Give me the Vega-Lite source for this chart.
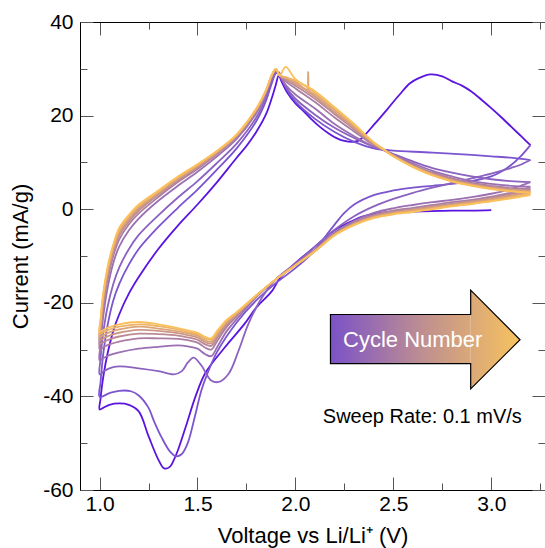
{
"$schema": "https://vega.github.io/schema/vega-lite/v6.json",
"width": 465, "height": 468,
"autosize": "none",
"padding": {"left": 80, "top": 22, "right": 0, "bottom": 58},
"background": "white",
"config": {"view": {"stroke": null}, "font": "Liberation Sans", "axis": {"grid": false, "labelColor": "#000", "titleColor": "#000", "tickColor": "#555", "domainColor": "#000", "titleFontWeight": "normal"}},
"resolve": {"axis": {"x": "independent", "y": "independent"}},
"layer": [
{
"data": {"values": [
{"c":"c01","i":0,"v":3.0,"a":-0.2},{"c":"c01","i":1,"v":2.9,"a":-0.3},{"c":"c01","i":2,"v":2.8,"a":-0.3},{"c":"c01","i":3,"v":2.7,"a":-0.4},{"c":"c01","i":4,"v":2.6,"a":-0.5},{"c":"c01","i":5,"v":2.5,"a":-0.6},{"c":"c01","i":6,"v":2.43,"a":-0.8},{"c":"c01","i":7,"v":2.35,"a":-1.5},{"c":"c01","i":8,"v":2.3,"a":-2.3},{"c":"c01","i":9,"v":2.2,"a":-4.5},{"c":"c01","i":10,"v":2.1,"a":-8.0},{"c":"c01","i":11,"v":2.0,"a":-11.5},{"c":"c01","i":12,"v":1.92,"a":-14.8},{"c":"c01","i":13,"v":1.88,"a":-17.5},{"c":"c01","i":14,"v":1.8,"a":-21.0},{"c":"c01","i":15,"v":1.74,"a":-24.5},{"c":"c01","i":16,"v":1.64,"a":-29.5},{"c":"c01","i":17,"v":1.54,"a":-35.0},{"c":"c01","i":18,"v":1.49,"a":-40.0},{"c":"c01","i":19,"v":1.44,"a":-46.5},{"c":"c01","i":20,"v":1.4,"a":-51.5},{"c":"c01","i":21,"v":1.38,"a":-53.5},{"c":"c01","i":22,"v":1.36,"a":-55.0},{"c":"c01","i":23,"v":1.33,"a":-55.4},{"c":"c01","i":24,"v":1.3,"a":-53.5},{"c":"c01","i":25,"v":1.25,"a":-48.5},{"c":"c01","i":26,"v":1.2,"a":-43.2},{"c":"c01","i":27,"v":1.15,"a":-41.8},{"c":"c01","i":28,"v":1.1,"a":-41.5},{"c":"c01","i":29,"v":1.05,"a":-41.8},{"c":"c01","i":30,"v":1.02,"a":-42.4},{"c":"c01","i":31,"v":1.0,"a":-42.8},
{"c":"c01","i":32,"v":1.005,"a":-40.5},{"c":"c01","i":33,"v":1.01,"a":-38.5},{"c":"c01","i":34,"v":1.02,"a":-35.5},{"c":"c01","i":35,"v":1.04,"a":-31.0},{"c":"c01","i":36,"v":1.07,"a":-26.0},{"c":"c01","i":37,"v":1.1,"a":-22.5},{"c":"c01","i":38,"v":1.15,"a":-18.0},{"c":"c01","i":39,"v":1.2,"a":-14.5},{"c":"c01","i":40,"v":1.3,"a":-8.5},{"c":"c01","i":41,"v":1.4,"a":-3.5},{"c":"c01","i":42,"v":1.5,"a":1.0},{"c":"c01","i":43,"v":1.6,"a":5.8},{"c":"c01","i":44,"v":1.7,"a":11.0},{"c":"c01","i":45,"v":1.75,"a":13.5},{"c":"c01","i":46,"v":1.8,"a":16.5},{"c":"c01","i":47,"v":1.85,"a":20.3},{"c":"c01","i":48,"v":1.88,"a":23.8},{"c":"c01","i":49,"v":1.9,"a":26.6},{"c":"c01","i":50,"v":1.915,"a":28.6},{"c":"c01","i":51,"v":1.93,"a":27.2},{"c":"c01","i":52,"v":1.96,"a":24.8},{"c":"c01","i":53,"v":2.0,"a":22.6},{"c":"c01","i":54,"v":2.04,"a":21.0},{"c":"c01","i":55,"v":2.08,"a":19.3},{"c":"c01","i":56,"v":2.125,"a":17.6},{"c":"c01","i":57,"v":2.17,"a":16.2},{"c":"c01","i":58,"v":2.21,"a":15.2},{"c":"c01","i":59,"v":2.25,"a":14.6},{"c":"c01","i":60,"v":2.29,"a":14.4},{"c":"c01","i":61,"v":2.32,"a":14.6},{"c":"c01","i":62,"v":2.34,"a":15.2},{"c":"c01","i":63,"v":2.4,"a":18.0},{"c":"c01","i":64,"v":2.47,"a":21.4},{"c":"c01","i":65,"v":2.53,"a":24.4},{"c":"c01","i":66,"v":2.585,"a":26.9},{"c":"c01","i":67,"v":2.63,"a":28.0},{"c":"c01","i":68,"v":2.69,"a":28.8},{"c":"c01","i":69,"v":2.75,"a":28.4},{"c":"c01","i":70,"v":2.8,"a":27.3},{"c":"c01","i":71,"v":2.85,"a":26.4},{"c":"c01","i":72,"v":2.9,"a":25.1},{"c":"c01","i":73,"v":2.95,"a":23.4},{"c":"c01","i":74,"v":3.0,"a":21.6},{"c":"c01","i":75,"v":3.05,"a":19.7},{"c":"c01","i":76,"v":3.1,"a":17.7},{"c":"c01","i":77,"v":3.15,"a":15.7},{"c":"c01","i":78,"v":3.2,"a":13.7},
{"c":"c02","i":0,"v":3.2,"a":13.7},{"c":"c02","i":1,"v":3.15,"a":11.3},{"c":"c02","i":2,"v":3.1,"a":9.4},{"c":"c02","i":3,"v":3.05,"a":8.0},{"c":"c02","i":4,"v":3.0,"a":7.0},{"c":"c02","i":5,"v":2.9,"a":6.0},{"c":"c02","i":6,"v":2.8,"a":5.4},{"c":"c02","i":7,"v":2.7,"a":5.0},{"c":"c02","i":8,"v":2.6,"a":4.6},{"c":"c02","i":9,"v":2.5,"a":4.0},{"c":"c02","i":10,"v":2.4,"a":3.0},{"c":"c02","i":11,"v":2.3,"a":1.0},{"c":"c02","i":12,"v":2.25,"a":-0.8},{"c":"c02","i":13,"v":2.2,"a":-3.3},{"c":"c02","i":14,"v":2.15,"a":-6.0},{"c":"c02","i":15,"v":2.1,"a":-8.8},{"c":"c02","i":16,"v":2.0,"a":-12.6},{"c":"c02","i":17,"v":1.9,"a":-15.8},{"c":"c02","i":18,"v":1.8,"a":-19.5},{"c":"c02","i":19,"v":1.7,"a":-24.2},{"c":"c02","i":20,"v":1.6,"a":-30.5},{"c":"c02","i":21,"v":1.55,"a":-35.2},{"c":"c02","i":22,"v":1.52,"a":-38.7},{"c":"c02","i":23,"v":1.486,"a":-44.4},{"c":"c02","i":24,"v":1.45,"a":-50.0},{"c":"c02","i":25,"v":1.42,"a":-52.3},{"c":"c02","i":26,"v":1.39,"a":-52.8},{"c":"c02","i":27,"v":1.36,"a":-51.8},{"c":"c02","i":28,"v":1.316,"a":-48.7},{"c":"c02","i":29,"v":1.28,"a":-45.5},{"c":"c02","i":30,"v":1.248,"a":-42.3},{"c":"c02","i":31,"v":1.2,"a":-39.8},{"c":"c02","i":32,"v":1.16,"a":-38.9},{"c":"c02","i":33,"v":1.1,"a":-38.8},{"c":"c02","i":34,"v":1.05,"a":-39.3},{"c":"c02","i":35,"v":1.0,"a":-40.1},
{"c":"c02","i":36,"v":1.005,"a":-37.0},{"c":"c02","i":37,"v":1.01,"a":-34.5},{"c":"c02","i":38,"v":1.02,"a":-30.5},{"c":"c02","i":39,"v":1.04,"a":-25.0},{"c":"c02","i":40,"v":1.07,"a":-19.5},{"c":"c02","i":41,"v":1.1,"a":-16.0},{"c":"c02","i":42,"v":1.15,"a":-11.8},{"c":"c02","i":43,"v":1.2,"a":-8.5},{"c":"c02","i":44,"v":1.3,"a":-3.8},{"c":"c02","i":45,"v":1.4,"a":0.3},{"c":"c02","i":46,"v":1.5,"a":4.2},{"c":"c02","i":47,"v":1.6,"a":8.5},{"c":"c02","i":48,"v":1.7,"a":13.0},{"c":"c02","i":49,"v":1.8,"a":18.8},{"c":"c02","i":50,"v":1.85,"a":23.2},{"c":"c02","i":51,"v":1.88,"a":27.0},{"c":"c02","i":52,"v":1.9,"a":29.0},{"c":"c02","i":53,"v":1.915,"a":29.3},{"c":"c02","i":54,"v":1.93,"a":28.0},{"c":"c02","i":55,"v":1.96,"a":25.3},{"c":"c02","i":56,"v":2.0,"a":23.0},{"c":"c02","i":57,"v":2.1,"a":19.3},{"c":"c02","i":58,"v":2.2,"a":16.5},{"c":"c02","i":59,"v":2.3,"a":14.4},{"c":"c02","i":60,"v":2.4,"a":13.0},{"c":"c02","i":61,"v":2.45,"a":12.7},{"c":"c02","i":62,"v":2.5,"a":12.5},{"c":"c02","i":63,"v":2.7,"a":12.1},{"c":"c02","i":64,"v":2.9,"a":11.6},{"c":"c02","i":65,"v":3.0,"a":11.3},{"c":"c02","i":66,"v":3.1,"a":11.0},{"c":"c02","i":67,"v":3.2,"a":10.5},
{"c":"c03","i":0,"v":3.2,"a":10.5},{"c":"c03","i":1,"v":3.15,"a":9.5},{"c":"c03","i":2,"v":3.1,"a":8.8},{"c":"c03","i":3,"v":3.0,"a":7.6},{"c":"c03","i":4,"v":2.9,"a":6.6},{"c":"c03","i":5,"v":2.8,"a":5.6},{"c":"c03","i":6,"v":2.7,"a":4.6},{"c":"c03","i":7,"v":2.6,"a":3.5},{"c":"c03","i":8,"v":2.5,"a":2.2},{"c":"c03","i":9,"v":2.4,"a":0.6},{"c":"c03","i":10,"v":2.3,"a":-1.5},{"c":"c03","i":11,"v":2.2,"a":-4.4},{"c":"c03","i":12,"v":2.1,"a":-8.0},{"c":"c03","i":13,"v":2.0,"a":-11.6},{"c":"c03","i":14,"v":1.9,"a":-15.0},{"c":"c03","i":15,"v":1.83,"a":-18.8},{"c":"c03","i":16,"v":1.76,"a":-24.5},{"c":"c03","i":17,"v":1.71,"a":-30.2},{"c":"c03","i":18,"v":1.66,"a":-35.1},{"c":"c03","i":19,"v":1.61,"a":-36.9},{"c":"c03","i":20,"v":1.57,"a":-36.6},{"c":"c03","i":21,"v":1.52,"a":-33.4},{"c":"c03","i":22,"v":1.48,"a":-31.7},{"c":"c03","i":23,"v":1.45,"a":-32.8},{"c":"c03","i":24,"v":1.42,"a":-34.6},{"c":"c03","i":25,"v":1.38,"a":-35.3},{"c":"c03","i":26,"v":1.3,"a":-34.6},{"c":"c03","i":27,"v":1.2,"a":-34.0},{"c":"c03","i":28,"v":1.1,"a":-33.6},{"c":"c03","i":29,"v":1.05,"a":-34.0},{"c":"c03","i":30,"v":1.02,"a":-34.7},{"c":"c03","i":31,"v":1.0,"a":-35.3},
{"c":"c03","i":32,"v":1.005,"a":-32.0},{"c":"c03","i":33,"v":1.01,"a":-29.5},{"c":"c03","i":34,"v":1.02,"a":-26.0},{"c":"c03","i":35,"v":1.04,"a":-21.0},{"c":"c03","i":36,"v":1.07,"a":-16.0},{"c":"c03","i":37,"v":1.1,"a":-12.5},{"c":"c03","i":38,"v":1.15,"a":-8.5},{"c":"c03","i":39,"v":1.2,"a":-5.5},{"c":"c03","i":40,"v":1.3,"a":-1.3},{"c":"c03","i":41,"v":1.4,"a":2.5},{"c":"c03","i":42,"v":1.5,"a":6.0},{"c":"c03","i":43,"v":1.6,"a":9.9},{"c":"c03","i":44,"v":1.7,"a":14.0},{"c":"c03","i":45,"v":1.8,"a":19.6},{"c":"c03","i":46,"v":1.85,"a":24.0},{"c":"c03","i":47,"v":1.88,"a":27.5},{"c":"c03","i":48,"v":1.9,"a":29.3},{"c":"c03","i":49,"v":1.92,"a":28.6},{"c":"c03","i":50,"v":1.95,"a":26.2},{"c":"c03","i":51,"v":2.0,"a":23.6},{"c":"c03","i":52,"v":2.1,"a":20.2},{"c":"c03","i":53,"v":2.2,"a":17.4},{"c":"c03","i":54,"v":2.3,"a":15.2},{"c":"c03","i":55,"v":2.4,"a":13.3},{"c":"c03","i":56,"v":2.45,"a":12.6},{"c":"c03","i":57,"v":2.5,"a":11.8},{"c":"c03","i":58,"v":2.6,"a":10.2},{"c":"c03","i":59,"v":2.7,"a":8.8},{"c":"c03","i":60,"v":2.8,"a":7.8},{"c":"c03","i":61,"v":2.9,"a":7.0},{"c":"c03","i":62,"v":3.0,"a":6.4},{"c":"c03","i":63,"v":3.1,"a":6.0},{"c":"c03","i":64,"v":3.2,"a":5.8},
{"c":"c04","i":0,"v":3.2,"a":5.8},{"c":"c04","i":1,"v":3.1,"a":4.3},{"c":"c04","i":2,"v":3.0,"a":3.3},{"c":"c04","i":3,"v":2.9,"a":2.6},{"c":"c04","i":4,"v":2.8,"a":2.0},{"c":"c04","i":5,"v":2.7,"a":1.5},{"c":"c04","i":6,"v":2.6,"a":0.9},{"c":"c04","i":7,"v":2.5,"a":0.2},{"c":"c04","i":8,"v":2.4,"a":-0.8},{"c":"c04","i":9,"v":2.3,"a":-2.5},{"c":"c04","i":10,"v":2.2,"a":-5.0},{"c":"c04","i":11,"v":2.1,"a":-8.6},{"c":"c04","i":12,"v":2.0,"a":-11.8},{"c":"c04","i":13,"v":1.9,"a":-15.0},{"c":"c04","i":14,"v":1.8,"a":-18.8},{"c":"c04","i":15,"v":1.7,"a":-23.5},{"c":"c04","i":16,"v":1.65,"a":-26.0},{"c":"c04","i":17,"v":1.6,"a":-29.5},{"c":"c04","i":18,"v":1.57,"a":-31.4},{"c":"c04","i":19,"v":1.54,"a":-31.0},{"c":"c04","i":20,"v":1.5,"a":-29.8},{"c":"c04","i":21,"v":1.45,"a":-29.3},{"c":"c04","i":22,"v":1.4,"a":-29.1},{"c":"c04","i":23,"v":1.3,"a":-29.4},{"c":"c04","i":24,"v":1.2,"a":-29.8},{"c":"c04","i":25,"v":1.1,"a":-30.6},{"c":"c04","i":26,"v":1.05,"a":-31.2},{"c":"c04","i":27,"v":1.02,"a":-31.8},{"c":"c04","i":28,"v":1.0,"a":-32.3},
{"c":"c04","i":29,"v":1.005,"a":-29.0},{"c":"c04","i":30,"v":1.01,"a":-26.5},{"c":"c04","i":31,"v":1.02,"a":-22.5},{"c":"c04","i":32,"v":1.04,"a":-17.0},{"c":"c04","i":33,"v":1.07,"a":-11.5},{"c":"c04","i":34,"v":1.1,"a":-8.0},{"c":"c04","i":35,"v":1.15,"a":-4.5},{"c":"c04","i":36,"v":1.2,"a":-2.0},{"c":"c04","i":37,"v":1.3,"a":1.8},{"c":"c04","i":38,"v":1.4,"a":5.0},{"c":"c04","i":39,"v":1.5,"a":8.0},{"c":"c04","i":40,"v":1.6,"a":11.3},{"c":"c04","i":41,"v":1.7,"a":15.0},{"c":"c04","i":42,"v":1.8,"a":20.5},{"c":"c04","i":43,"v":1.85,"a":24.8},{"c":"c04","i":44,"v":1.88,"a":28.2},{"c":"c04","i":45,"v":1.9,"a":29.6},{"c":"c04","i":46,"v":1.92,"a":28.6},{"c":"c04","i":47,"v":1.95,"a":26.6},{"c":"c04","i":48,"v":2.0,"a":24.5},{"c":"c04","i":49,"v":2.1,"a":21.5},{"c":"c04","i":50,"v":2.2,"a":18.2},{"c":"c04","i":51,"v":2.3,"a":15.6},{"c":"c04","i":52,"v":2.4,"a":13.4},{"c":"c04","i":53,"v":2.45,"a":12.6},{"c":"c04","i":54,"v":2.5,"a":11.6},{"c":"c04","i":55,"v":2.6,"a":9.8},{"c":"c04","i":56,"v":2.7,"a":8.2},{"c":"c04","i":57,"v":2.8,"a":7.0},{"c":"c04","i":58,"v":2.9,"a":6.0},{"c":"c04","i":59,"v":3.0,"a":5.4},{"c":"c04","i":60,"v":3.1,"a":5.0},{"c":"c04","i":61,"v":3.2,"a":4.8},
{"c":"c05","i":0,"v":3.2,"a":4.7},{"c":"c05","i":1,"v":3.1,"a":3.5},{"c":"c05","i":2,"v":3.0,"a":2.7},{"c":"c05","i":3,"v":2.9,"a":2.0},{"c":"c05","i":4,"v":2.8,"a":1.5},{"c":"c05","i":5,"v":2.7,"a":0.9},{"c":"c05","i":6,"v":2.6,"a":0.3},{"c":"c05","i":7,"v":2.5,"a":-0.3},{"c":"c05","i":8,"v":2.4,"a":-1.2},{"c":"c05","i":9,"v":2.3,"a":-2.8},{"c":"c05","i":10,"v":2.2,"a":-5.2},{"c":"c05","i":11,"v":2.1,"a":-8.8},{"c":"c05","i":12,"v":2.0,"a":-11.9},{"c":"c05","i":13,"v":1.9,"a":-15.0},{"c":"c05","i":14,"v":1.8,"a":-18.6},{"c":"c05","i":15,"v":1.7,"a":-22.9},{"c":"c05","i":16,"v":1.65,"a":-25.1},{"c":"c05","i":17,"v":1.6,"a":-28.2},{"c":"c05","i":18,"v":1.57,"a":-30.0},{"c":"c05","i":19,"v":1.54,"a":-29.6},{"c":"c05","i":20,"v":1.5,"a":-28.5},{"c":"c05","i":21,"v":1.45,"a":-28.0},{"c":"c05","i":22,"v":1.4,"a":-27.7},{"c":"c05","i":23,"v":1.3,"a":-27.6},{"c":"c05","i":24,"v":1.2,"a":-27.6},{"c":"c05","i":25,"v":1.1,"a":-28.3},{"c":"c05","i":26,"v":1.05,"a":-28.9},{"c":"c05","i":27,"v":1.02,"a":-29.5},{"c":"c05","i":28,"v":1.0,"a":-30.0},
{"c":"c05","i":29,"v":1.005,"a":-26.9},{"c":"c05","i":30,"v":1.01,"a":-24.4},{"c":"c05","i":31,"v":1.02,"a":-20.6},{"c":"c05","i":32,"v":1.04,"a":-15.3},{"c":"c05","i":33,"v":1.07,"a":-10.0},{"c":"c05","i":34,"v":1.1,"a":-6.5},{"c":"c05","i":35,"v":1.15,"a":-3.2},{"c":"c05","i":36,"v":1.2,"a":-0.9},{"c":"c05","i":37,"v":1.3,"a":2.6},{"c":"c05","i":38,"v":1.4,"a":5.8},{"c":"c05","i":39,"v":1.5,"a":8.6},{"c":"c05","i":40,"v":1.6,"a":11.8},{"c":"c05","i":41,"v":1.7,"a":15.4},{"c":"c05","i":42,"v":1.8,"a":20.9},{"c":"c05","i":43,"v":1.85,"a":25.1},{"c":"c05","i":44,"v":1.88,"a":28.4},{"c":"c05","i":45,"v":1.9,"a":29.8},{"c":"c05","i":46,"v":1.92,"a":28.6},{"c":"c05","i":47,"v":1.95,"a":27.3},{"c":"c05","i":48,"v":2.0,"a":25.8},{"c":"c05","i":49,"v":2.1,"a":22.9},{"c":"c05","i":50,"v":2.2,"a":19.6},{"c":"c05","i":51,"v":2.3,"a":16.6},{"c":"c05","i":52,"v":2.4,"a":13.7},{"c":"c05","i":53,"v":2.45,"a":12.7},{"c":"c05","i":54,"v":2.5,"a":11.5},{"c":"c05","i":55,"v":2.6,"a":9.5},{"c":"c05","i":56,"v":2.7,"a":7.8},{"c":"c05","i":57,"v":2.8,"a":6.6},{"c":"c05","i":58,"v":2.9,"a":5.6},{"c":"c05","i":59,"v":3.0,"a":5.0},{"c":"c05","i":60,"v":3.1,"a":4.5},{"c":"c05","i":61,"v":3.2,"a":4.3},
{"c":"c06","i":0,"v":3.2,"a":4.2},{"c":"c06","i":1,"v":3.1,"a":3.2},{"c":"c06","i":2,"v":3.0,"a":2.4},{"c":"c06","i":3,"v":2.9,"a":1.7},{"c":"c06","i":4,"v":2.8,"a":1.2},{"c":"c06","i":5,"v":2.7,"a":0.6},{"c":"c06","i":6,"v":2.6,"a":0.0},{"c":"c06","i":7,"v":2.5,"a":-0.5},{"c":"c06","i":8,"v":2.4,"a":-1.4},{"c":"c06","i":9,"v":2.3,"a":-3.0},{"c":"c06","i":10,"v":2.2,"a":-5.3},{"c":"c06","i":11,"v":2.1,"a":-8.8},{"c":"c06","i":12,"v":2.0,"a":-11.9},{"c":"c06","i":13,"v":1.9,"a":-15.0},{"c":"c06","i":14,"v":1.8,"a":-18.6},{"c":"c06","i":15,"v":1.7,"a":-22.6},{"c":"c06","i":16,"v":1.65,"a":-24.6},{"c":"c06","i":17,"v":1.6,"a":-27.5},{"c":"c06","i":18,"v":1.57,"a":-29.2},{"c":"c06","i":19,"v":1.54,"a":-28.9},{"c":"c06","i":20,"v":1.5,"a":-27.9},{"c":"c06","i":21,"v":1.45,"a":-27.4},{"c":"c06","i":22,"v":1.4,"a":-27.0},{"c":"c06","i":23,"v":1.3,"a":-26.7},{"c":"c06","i":24,"v":1.2,"a":-26.6},{"c":"c06","i":25,"v":1.1,"a":-27.2},{"c":"c06","i":26,"v":1.05,"a":-27.8},{"c":"c06","i":27,"v":1.02,"a":-28.4},{"c":"c06","i":28,"v":1.0,"a":-28.8},
{"c":"c06","i":29,"v":1.005,"a":-25.9},{"c":"c06","i":30,"v":1.01,"a":-23.4},{"c":"c06","i":31,"v":1.02,"a":-19.7},{"c":"c06","i":32,"v":1.04,"a":-14.4},{"c":"c06","i":33,"v":1.07,"a":-9.2},{"c":"c06","i":34,"v":1.1,"a":-5.7},{"c":"c06","i":35,"v":1.15,"a":-2.6},{"c":"c06","i":36,"v":1.2,"a":-0.3},{"c":"c06","i":37,"v":1.3,"a":3.1},{"c":"c06","i":38,"v":1.4,"a":6.1},{"c":"c06","i":39,"v":1.5,"a":8.9},{"c":"c06","i":40,"v":1.6,"a":12.0},{"c":"c06","i":41,"v":1.7,"a":15.6},{"c":"c06","i":42,"v":1.8,"a":21.1},{"c":"c06","i":43,"v":1.85,"a":25.2},{"c":"c06","i":44,"v":1.88,"a":28.5},{"c":"c06","i":45,"v":1.9,"a":29.8},{"c":"c06","i":46,"v":1.92,"a":28.6},{"c":"c06","i":47,"v":1.95,"a":27.6},{"c":"c06","i":48,"v":2.0,"a":26.4},{"c":"c06","i":49,"v":2.1,"a":23.6},{"c":"c06","i":50,"v":2.2,"a":20.3},{"c":"c06","i":51,"v":2.3,"a":17.1},{"c":"c06","i":52,"v":2.4,"a":13.9},{"c":"c06","i":53,"v":2.45,"a":12.7},{"c":"c06","i":54,"v":2.5,"a":11.4},{"c":"c06","i":55,"v":2.6,"a":9.3},{"c":"c06","i":56,"v":2.7,"a":7.6},{"c":"c06","i":57,"v":2.8,"a":6.4},{"c":"c06","i":58,"v":2.9,"a":5.4},{"c":"c06","i":59,"v":3.0,"a":4.8},{"c":"c06","i":60,"v":3.1,"a":4.3},{"c":"c06","i":61,"v":3.2,"a":4.1},
{"c":"c07","i":0,"v":3.2,"a":3.8},{"c":"c07","i":1,"v":3.1,"a":2.9},{"c":"c07","i":2,"v":3.0,"a":2.2},{"c":"c07","i":3,"v":2.9,"a":1.6},{"c":"c07","i":4,"v":2.8,"a":1.0},{"c":"c07","i":5,"v":2.7,"a":0.5},{"c":"c07","i":6,"v":2.6,"a":-0.1},{"c":"c07","i":7,"v":2.5,"a":-0.7},{"c":"c07","i":8,"v":2.4,"a":-1.6},{"c":"c07","i":9,"v":2.3,"a":-3.1},{"c":"c07","i":10,"v":2.2,"a":-5.4},{"c":"c07","i":11,"v":2.1,"a":-8.9},{"c":"c07","i":12,"v":2.0,"a":-11.9},{"c":"c07","i":13,"v":1.9,"a":-15.0},{"c":"c07","i":14,"v":1.8,"a":-18.5},{"c":"c07","i":15,"v":1.7,"a":-22.4},{"c":"c07","i":16,"v":1.65,"a":-24.3},{"c":"c07","i":17,"v":1.6,"a":-27.1},{"c":"c07","i":18,"v":1.57,"a":-28.7},{"c":"c07","i":19,"v":1.54,"a":-28.4},{"c":"c07","i":20,"v":1.5,"a":-27.4},{"c":"c07","i":21,"v":1.45,"a":-26.9},{"c":"c07","i":22,"v":1.4,"a":-26.5},{"c":"c07","i":23,"v":1.3,"a":-26.0},{"c":"c07","i":24,"v":1.2,"a":-25.8},{"c":"c07","i":25,"v":1.1,"a":-26.4},{"c":"c07","i":26,"v":1.05,"a":-27.0},{"c":"c07","i":27,"v":1.02,"a":-27.6},{"c":"c07","i":28,"v":1.0,"a":-28.0},
{"c":"c07","i":29,"v":1.005,"a":-25.2},{"c":"c07","i":30,"v":1.01,"a":-22.7},{"c":"c07","i":31,"v":1.02,"a":-19.0},{"c":"c07","i":32,"v":1.04,"a":-13.9},{"c":"c07","i":33,"v":1.07,"a":-8.7},{"c":"c07","i":34,"v":1.1,"a":-5.2},{"c":"c07","i":35,"v":1.15,"a":-2.2},{"c":"c07","i":36,"v":1.2,"a":0.1},{"c":"c07","i":37,"v":1.3,"a":3.3},{"c":"c07","i":38,"v":1.4,"a":6.4},{"c":"c07","i":39,"v":1.5,"a":9.1},{"c":"c07","i":40,"v":1.6,"a":12.1},{"c":"c07","i":41,"v":1.7,"a":15.7},{"c":"c07","i":42,"v":1.8,"a":21.2},{"c":"c07","i":43,"v":1.85,"a":25.3},{"c":"c07","i":44,"v":1.88,"a":28.6},{"c":"c07","i":45,"v":1.9,"a":29.9},{"c":"c07","i":46,"v":1.92,"a":28.6},{"c":"c07","i":47,"v":1.95,"a":27.9},{"c":"c07","i":48,"v":2.0,"a":26.8},{"c":"c07","i":49,"v":2.1,"a":24.1},{"c":"c07","i":50,"v":2.2,"a":20.7},{"c":"c07","i":51,"v":2.3,"a":17.4},{"c":"c07","i":52,"v":2.4,"a":14.0},{"c":"c07","i":53,"v":2.45,"a":12.7},{"c":"c07","i":54,"v":2.5,"a":11.4},{"c":"c07","i":55,"v":2.6,"a":9.2},{"c":"c07","i":56,"v":2.7,"a":7.5},{"c":"c07","i":57,"v":2.8,"a":6.2},{"c":"c07","i":58,"v":2.9,"a":5.3},{"c":"c07","i":59,"v":3.0,"a":4.6},{"c":"c07","i":60,"v":3.1,"a":4.2},{"c":"c07","i":61,"v":3.2,"a":3.9},
{"c":"c08","i":0,"v":3.2,"a":3.5},{"c":"c08","i":1,"v":3.1,"a":2.7},{"c":"c08","i":2,"v":3.0,"a":2.0},{"c":"c08","i":3,"v":2.9,"a":1.4},{"c":"c08","i":4,"v":2.8,"a":0.9},{"c":"c08","i":5,"v":2.7,"a":0.3},{"c":"c08","i":6,"v":2.6,"a":-0.3},{"c":"c08","i":7,"v":2.5,"a":-0.9},{"c":"c08","i":8,"v":2.4,"a":-1.7},{"c":"c08","i":9,"v":2.3,"a":-3.2},{"c":"c08","i":10,"v":2.2,"a":-5.5},{"c":"c08","i":11,"v":2.1,"a":-8.9},{"c":"c08","i":12,"v":2.0,"a":-12.0},{"c":"c08","i":13,"v":1.9,"a":-15.0},{"c":"c08","i":14,"v":1.8,"a":-18.5},{"c":"c08","i":15,"v":1.7,"a":-22.3},{"c":"c08","i":16,"v":1.65,"a":-24.0},{"c":"c08","i":17,"v":1.6,"a":-26.6},{"c":"c08","i":18,"v":1.57,"a":-28.3},{"c":"c08","i":19,"v":1.54,"a":-28.0},{"c":"c08","i":20,"v":1.5,"a":-27.0},{"c":"c08","i":21,"v":1.45,"a":-26.5},{"c":"c08","i":22,"v":1.4,"a":-26.1},{"c":"c08","i":23,"v":1.3,"a":-25.5},{"c":"c08","i":24,"v":1.2,"a":-25.1},{"c":"c08","i":25,"v":1.1,"a":-25.7},{"c":"c08","i":26,"v":1.05,"a":-26.3},{"c":"c08","i":27,"v":1.02,"a":-26.9},{"c":"c08","i":28,"v":1.0,"a":-27.3},
{"c":"c08","i":29,"v":1.005,"a":-24.5},{"c":"c08","i":30,"v":1.01,"a":-22.0},{"c":"c08","i":31,"v":1.02,"a":-18.4},{"c":"c08","i":32,"v":1.04,"a":-13.3},{"c":"c08","i":33,"v":1.07,"a":-8.2},{"c":"c08","i":34,"v":1.1,"a":-4.7},{"c":"c08","i":35,"v":1.15,"a":-1.8},{"c":"c08","i":36,"v":1.2,"a":0.5},{"c":"c08","i":37,"v":1.3,"a":3.6},{"c":"c08","i":38,"v":1.4,"a":6.6},{"c":"c08","i":39,"v":1.5,"a":9.3},{"c":"c08","i":40,"v":1.6,"a":12.3},{"c":"c08","i":41,"v":1.7,"a":15.8},{"c":"c08","i":42,"v":1.8,"a":21.3},{"c":"c08","i":43,"v":1.85,"a":25.4},{"c":"c08","i":44,"v":1.88,"a":28.7},{"c":"c08","i":45,"v":1.9,"a":29.9},{"c":"c08","i":46,"v":1.92,"a":28.6},{"c":"c08","i":47,"v":1.95,"a":28.1},{"c":"c08","i":48,"v":2.0,"a":27.2},{"c":"c08","i":49,"v":2.06,"a":25.6},{"c":"c08","i":50,"v":2.065,"a":29.3},{"c":"c08","i":51,"v":2.07,"a":25.4},{"c":"c08","i":52,"v":2.1,"a":24.5},{"c":"c08","i":53,"v":2.2,"a":21.2},{"c":"c08","i":54,"v":2.3,"a":17.7},{"c":"c08","i":55,"v":2.4,"a":14.1},{"c":"c08","i":56,"v":2.45,"a":12.8},{"c":"c08","i":57,"v":2.5,"a":11.4},{"c":"c08","i":58,"v":2.6,"a":9.1},{"c":"c08","i":59,"v":2.7,"a":7.4},{"c":"c08","i":60,"v":2.8,"a":6.1},{"c":"c08","i":61,"v":2.9,"a":5.2},{"c":"c08","i":62,"v":3.0,"a":4.5},{"c":"c08","i":63,"v":3.1,"a":4.0},{"c":"c08","i":64,"v":3.2,"a":3.7},
{"c":"c09","i":0,"v":3.2,"a":3.3},{"c":"c09","i":1,"v":3.1,"a":2.5},{"c":"c09","i":2,"v":3.0,"a":1.8},{"c":"c09","i":3,"v":2.9,"a":1.2},{"c":"c09","i":4,"v":2.8,"a":0.7},{"c":"c09","i":5,"v":2.7,"a":0.1},{"c":"c09","i":6,"v":2.6,"a":-0.5},{"c":"c09","i":7,"v":2.5,"a":-1.0},{"c":"c09","i":8,"v":2.4,"a":-1.8},{"c":"c09","i":9,"v":2.3,"a":-3.3},{"c":"c09","i":10,"v":2.2,"a":-5.5},{"c":"c09","i":11,"v":2.1,"a":-9.0},{"c":"c09","i":12,"v":2.0,"a":-12.0},{"c":"c09","i":13,"v":1.9,"a":-15.0},{"c":"c09","i":14,"v":1.8,"a":-18.4},{"c":"c09","i":15,"v":1.7,"a":-22.1},{"c":"c09","i":16,"v":1.65,"a":-23.8},{"c":"c09","i":17,"v":1.6,"a":-26.3},{"c":"c09","i":18,"v":1.57,"a":-27.9},{"c":"c09","i":19,"v":1.54,"a":-27.6},{"c":"c09","i":20,"v":1.5,"a":-26.7},{"c":"c09","i":21,"v":1.45,"a":-26.2},{"c":"c09","i":22,"v":1.4,"a":-25.7},{"c":"c09","i":23,"v":1.3,"a":-25.0},{"c":"c09","i":24,"v":1.2,"a":-24.6},{"c":"c09","i":25,"v":1.1,"a":-25.1},{"c":"c09","i":26,"v":1.05,"a":-25.7},{"c":"c09","i":27,"v":1.02,"a":-26.3},{"c":"c09","i":28,"v":1.0,"a":-26.7},
{"c":"c09","i":29,"v":1.005,"a":-24.0},{"c":"c09","i":30,"v":1.01,"a":-21.5},{"c":"c09","i":31,"v":1.02,"a":-18.0},{"c":"c09","i":32,"v":1.04,"a":-12.9},{"c":"c09","i":33,"v":1.07,"a":-7.9},{"c":"c09","i":34,"v":1.1,"a":-4.4},{"c":"c09","i":35,"v":1.15,"a":-1.5},{"c":"c09","i":36,"v":1.2,"a":0.7},{"c":"c09","i":37,"v":1.3,"a":3.8},{"c":"c09","i":38,"v":1.4,"a":6.8},{"c":"c09","i":39,"v":1.5,"a":9.5},{"c":"c09","i":40,"v":1.6,"a":12.4},{"c":"c09","i":41,"v":1.7,"a":15.9},{"c":"c09","i":42,"v":1.8,"a":21.4},{"c":"c09","i":43,"v":1.85,"a":25.4},{"c":"c09","i":44,"v":1.88,"a":28.7},{"c":"c09","i":45,"v":1.9,"a":30.0},{"c":"c09","i":46,"v":1.92,"a":28.6},{"c":"c09","i":47,"v":1.95,"a":28.2},{"c":"c09","i":48,"v":2.0,"a":27.5},{"c":"c09","i":49,"v":2.1,"a":24.9},{"c":"c09","i":50,"v":2.2,"a":21.5},{"c":"c09","i":51,"v":2.3,"a":18.0},{"c":"c09","i":52,"v":2.4,"a":14.2},{"c":"c09","i":53,"v":2.45,"a":12.8},{"c":"c09","i":54,"v":2.5,"a":11.3},{"c":"c09","i":55,"v":2.6,"a":9.1},{"c":"c09","i":56,"v":2.7,"a":7.3},{"c":"c09","i":57,"v":2.8,"a":6.0},{"c":"c09","i":58,"v":2.9,"a":5.1},{"c":"c09","i":59,"v":3.0,"a":4.4},{"c":"c09","i":60,"v":3.1,"a":3.9},{"c":"c09","i":61,"v":3.2,"a":3.6},
{"c":"c10","i":0,"v":3.2,"a":3.0},{"c":"c10","i":1,"v":3.1,"a":2.3},{"c":"c10","i":2,"v":3.0,"a":1.7},{"c":"c10","i":3,"v":2.9,"a":1.1},{"c":"c10","i":4,"v":2.8,"a":0.6},{"c":"c10","i":5,"v":2.7,"a":0.0},{"c":"c10","i":6,"v":2.6,"a":-0.6},{"c":"c10","i":7,"v":2.5,"a":-1.1},{"c":"c10","i":8,"v":2.4,"a":-1.9},{"c":"c10","i":9,"v":2.3,"a":-3.4},{"c":"c10","i":10,"v":2.2,"a":-5.6},{"c":"c10","i":11,"v":2.1,"a":-9.0},{"c":"c10","i":12,"v":2.0,"a":-12.0},{"c":"c10","i":13,"v":1.9,"a":-15.0},{"c":"c10","i":14,"v":1.8,"a":-18.4},{"c":"c10","i":15,"v":1.7,"a":-22.0},{"c":"c10","i":16,"v":1.65,"a":-23.6},{"c":"c10","i":17,"v":1.6,"a":-26.0},{"c":"c10","i":18,"v":1.57,"a":-27.6},{"c":"c10","i":19,"v":1.54,"a":-27.3},{"c":"c10","i":20,"v":1.5,"a":-26.4},{"c":"c10","i":21,"v":1.45,"a":-25.9},{"c":"c10","i":22,"v":1.4,"a":-25.4},{"c":"c10","i":23,"v":1.3,"a":-24.6},{"c":"c10","i":24,"v":1.2,"a":-24.1},{"c":"c10","i":25,"v":1.1,"a":-24.6},{"c":"c10","i":26,"v":1.05,"a":-25.2},{"c":"c10","i":27,"v":1.02,"a":-25.8},{"c":"c10","i":28,"v":1.0,"a":-26.2},
{"c":"c10","i":29,"v":1.005,"a":-23.5},{"c":"c10","i":30,"v":1.01,"a":-21.0},{"c":"c10","i":31,"v":1.02,"a":-17.5},{"c":"c10","i":32,"v":1.04,"a":-12.5},{"c":"c10","i":33,"v":1.07,"a":-7.5},{"c":"c10","i":34,"v":1.1,"a":-4.0},{"c":"c10","i":35,"v":1.15,"a":-1.2},{"c":"c10","i":36,"v":1.2,"a":1.0},{"c":"c10","i":37,"v":1.3,"a":4.0},{"c":"c10","i":38,"v":1.4,"a":7.0},{"c":"c10","i":39,"v":1.5,"a":9.6},{"c":"c10","i":40,"v":1.6,"a":12.5},{"c":"c10","i":41,"v":1.7,"a":16.0},{"c":"c10","i":42,"v":1.8,"a":21.5},{"c":"c10","i":43,"v":1.85,"a":25.5},{"c":"c10","i":44,"v":1.88,"a":28.8},{"c":"c10","i":45,"v":1.9,"a":30.0},{"c":"c10","i":46,"v":1.92,"a":28.6},{"c":"c10","i":47,"v":1.95,"a":30.4},{"c":"c10","i":48,"v":2.0,"a":27.8},{"c":"c10","i":49,"v":2.1,"a":25.2},{"c":"c10","i":50,"v":2.2,"a":21.8},{"c":"c10","i":51,"v":2.3,"a":18.2},{"c":"c10","i":52,"v":2.4,"a":14.3},{"c":"c10","i":53,"v":2.45,"a":12.8},{"c":"c10","i":54,"v":2.5,"a":11.3},{"c":"c10","i":55,"v":2.6,"a":9.0},{"c":"c10","i":56,"v":2.7,"a":7.2},{"c":"c10","i":57,"v":2.8,"a":5.9},{"c":"c10","i":58,"v":2.9,"a":5.0},{"c":"c10","i":59,"v":3.0,"a":4.3},{"c":"c10","i":60,"v":3.1,"a":3.8},{"c":"c10","i":61,"v":3.2,"a":3.5}
]},
"mark": {"type": "line", "strokeWidth": 1.8, "strokeJoin": "round", "interpolate": "catmull-rom"},
"encoding": {
"x": {"field": "v", "type": "quantitative", "scale": {"domain": [0.9, 3.2745], "nice": false, "zero": false},
 "axis": {"orient": "bottom", "values": [1, 1.5, 2, 2.5, 3], "labelExpr": "format(datum.value, '.1f')", "tickSize": -13, "labelPadding": 16, "labelFontSize": 21, "labelFlush": false, "title": "Voltage vs Li/Li⁺ (V)", "titleFontSize": 22, "titlePadding": 11}},
"y": {"field": "a", "type": "quantitative", "scale": {"domain": [-60, 40], "nice": false, "zero": false},
 "axis": {"orient": "left", "values": [-60, -40, -20, 0, 20, 40], "labelExpr": "toString(datum.value)", "tickSize": -13, "labelPadding": 20, "labelFontSize": 21, "labelFlush": false, "title": "Current (mA/g)", "titleFontSize": 22, "titlePadding": 10}},
"color": {"field": "c", "type": "nominal", "legend": null,
 "scale": {"domain": ["c01","c02","c03","c04","c05","c06","c07","c08","c09","c10"], "range": ["#5b14e0","#7b54cf","#8b62c0","#9b6fb2","#ab7da3","#bc8a95","#cc9886","#dca577","#ecb369","#fcc05a"]}},
"order": {"field": "i", "type": "quantitative"}
}
},
{
"data": {"values": [{"x1": 2.179, "x2": 2.895, "y1": -22.5, "y2": -33.0}]},
"mark": {"type": "rect", "strokeWidth": 0, "color": {"gradient": "linear", "stops": [{"offset": 0, "color": "#7b52c8"}, {"offset": 0.676, "color": "#c0908f"}, {"offset": 1, "color": "#daa878"}]}},
"encoding": {
"x": {"field": "x1", "type": "quantitative", "scale": {"domain": [0.9, 3.2745], "nice": false, "zero": false},
 "axis": {"orient": "bottom", "values": [1.25, 1.75, 2.25, 2.75, 3.25], "tickSize": -7, "labels": false, "domain": false, "title": null}},
"x2": {"field": "x2"},
"y": {"field": "y1", "type": "quantitative", "scale": {"domain": [-60, 40], "nice": false, "zero": false},
 "axis": {"orient": "left", "values": [-50, -30, -10, 10, 30], "tickSize": -7, "labels": false, "domain": false, "title": null}},
"y2": {"field": "y2"}
}
},
{
"data": {"values": [{"hx": 2.895, "hy": -17.3, "hy2": -38.4}, {"hx": 3.147, "hy": -27.9, "hy2": -27.9}]},
"mark": {"type": "area", "color": {"gradient": "linear", "stops": [{"offset": 0, "color": "#daa878"}, {"offset": 1, "color": "#f7c35f"}]}},
"encoding": {
"x": {"field": "hx", "type": "quantitative", "scale": {"domain": [0.9, 3.2745], "nice": false, "zero": false},
 "axis": {"orient": "top", "values": [1, 1.5, 2, 2.5, 3], "tickSize": -13, "labels": false, "domain": true, "title": null}},
"y": {"field": "hy", "type": "quantitative", "scale": {"domain": [-60, 40], "nice": false, "zero": false},
 "axis": {"orient": "right", "values": [-60, -40, -20, 0, 20, 40], "tickSize": -13, "labels": false, "domain": false, "title": null}},
"y2": {"field": "hy2"}
}
},
{
"data": {"values": [{"ox": 2.179, "oy": -22.5, "oi": 0}, {"ox": 2.895, "oy": -22.5, "oi": 1}, {"ox": 2.895, "oy": -17.3, "oi": 2}, {"ox": 3.147, "oy": -27.9, "oi": 3}, {"ox": 2.895, "oy": -38.4, "oi": 4}, {"ox": 2.895, "oy": -33.0, "oi": 5}, {"ox": 2.179, "oy": -33.0, "oi": 6}, {"ox": 2.179, "oy": -22.5, "oi": 7}]},
"mark": {"type": "line", "color": "#000", "strokeWidth": 1.2, "strokeJoin": "miter", "strokeCap": "square"},
"encoding": {
"x": {"field": "ox", "type": "quantitative", "scale": {"domain": [0.9, 3.2745], "nice": false, "zero": false},
 "axis": {"orient": "top", "values": [1.25, 1.75, 2.25, 2.75, 3.25], "tickSize": -7, "labels": false, "domain": false, "title": null}},
"y": {"field": "oy", "type": "quantitative", "scale": {"domain": [-60, 40], "nice": false, "zero": false},
 "axis": {"orient": "right", "values": [-50, -30, -10, 10, 30], "tickSize": -7, "labels": false, "domain": false, "title": null}},
"order": {"field": "oi", "type": "quantitative"}
}
},
{
"data": {"values": [{"t": "Cycle Number", "tx": 2.599, "ty": -27.9}]},
"mark": {"type": "text", "color": "#ffffff", "fontSize": 22, "align": "center", "baseline": "middle"},
"encoding": {
"x": {"field": "tx", "type": "quantitative", "scale": {"domain": [0.9, 3.2745], "nice": false, "zero": false}, "axis": null},
"y": {"field": "ty", "type": "quantitative", "scale": {"domain": [-60, 40], "nice": false, "zero": false}, "axis": null},
"text": {"field": "t"}
}
},
{
"data": {"values": [{"t": "Sweep Rate: 0.1 mV/s", "tx": 2.648, "ty": -44.4}]},
"mark": {"type": "text", "color": "#000000", "fontSize": 20, "align": "center", "baseline": "middle"},
"encoding": {
"x": {"field": "tx", "type": "quantitative", "scale": {"domain": [0.9, 3.2745], "nice": false, "zero": false}, "axis": null},
"y": {"field": "ty", "type": "quantitative", "scale": {"domain": [-60, 40], "nice": false, "zero": false}, "axis": null},
"text": {"field": "t"}
}
}
]
}
